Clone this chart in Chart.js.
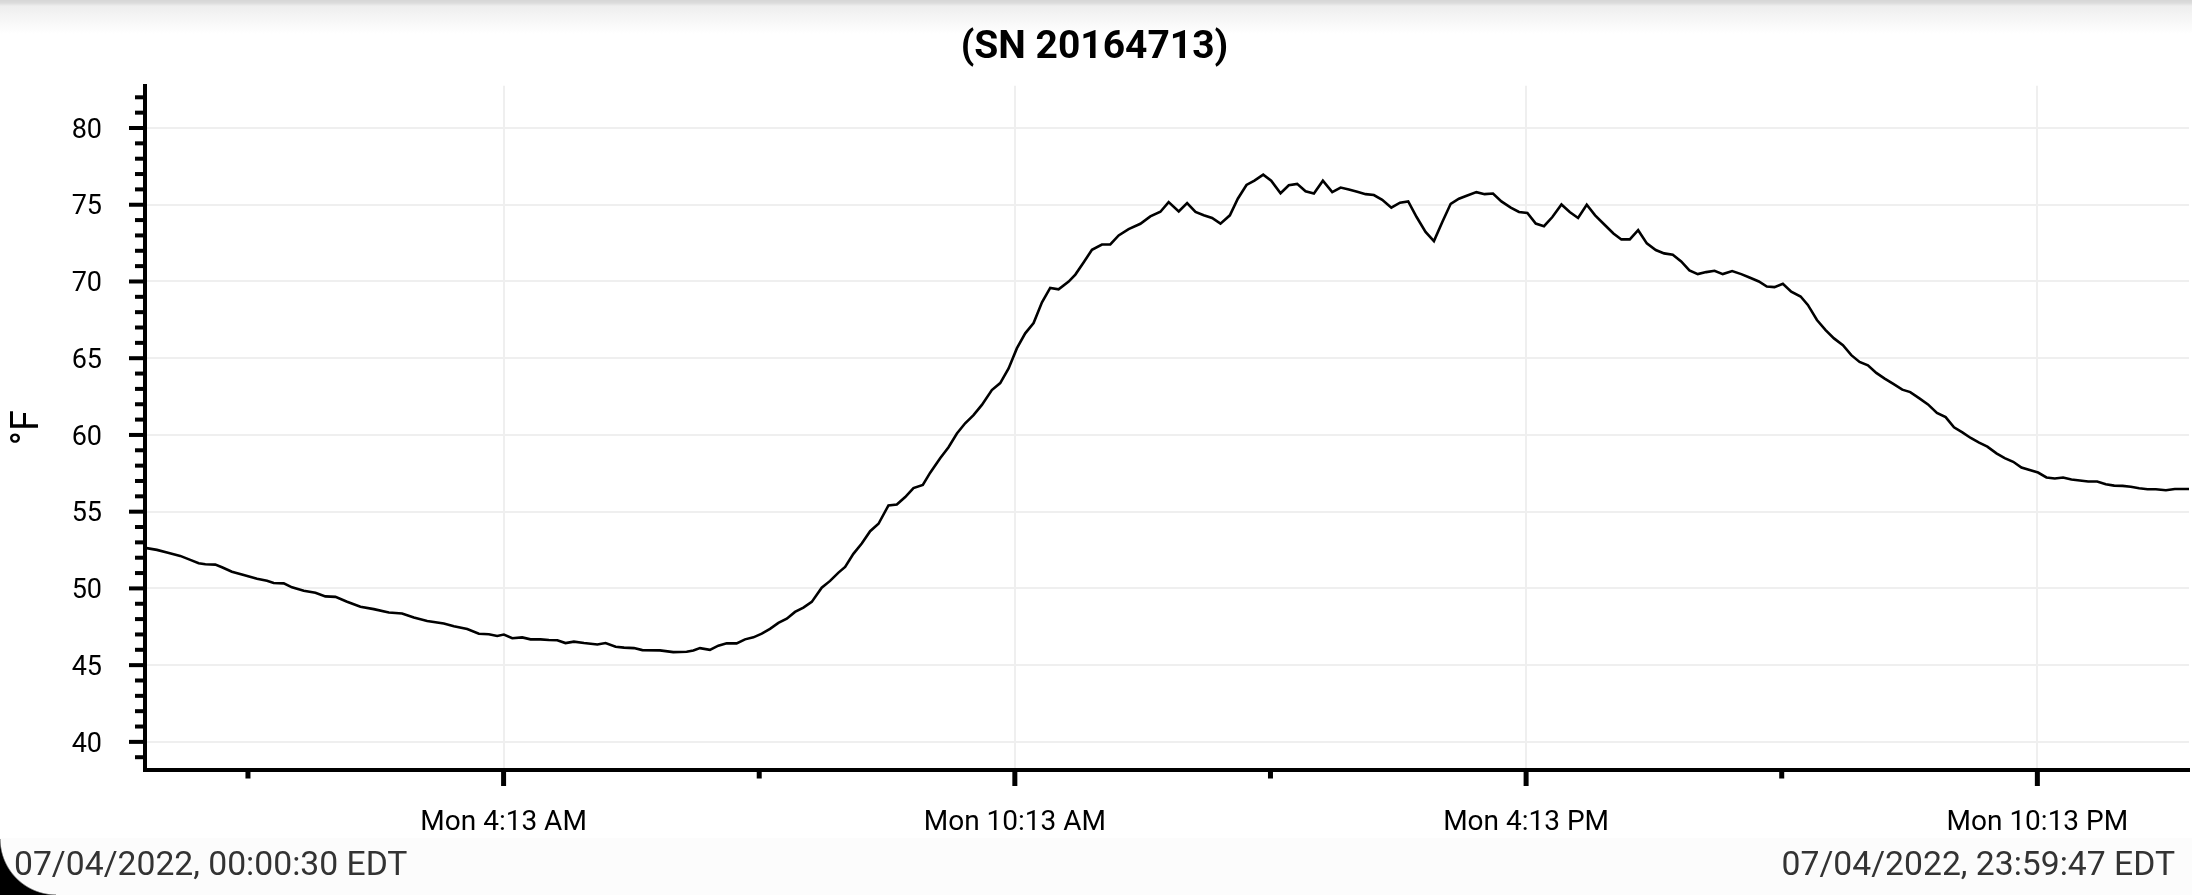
<!DOCTYPE html>
<html>
<head>
<meta charset="utf-8">
<script src="https://cdn.jsdelivr.net/npm/chart.js@4/dist/chart.umd.min.js"></script>
<style>
  html, body { margin: 0; padding: 0; background: #fff; }
  #wrap { position: relative; width: 2192px; height: 895px; overflow: hidden; background: #fff; }
  #shade { position: absolute; left: 0; top: 0; width: 2192px; height: 34px;
    background: linear-gradient(#d6d6d6 0px, #dcdcdc 3px, #eeeeee 6px, #ffffff 34px); }
  #foot { position: absolute; left: 0; top: 838px; width: 2192px; height: 57px; background: #fcfcfc; }
  .stamp { position: absolute; top: 844px; font-family: Roboto, sans-serif; font-size: 33.7px; color: #333; white-space: nowrap; line-height: 40px; }
  #stampL { left: 14px; }
  #stampR { right: 17px; }
  #corner { position: absolute; left: 0; bottom: 0; width: 56px; height: 56px;
    background: radial-gradient(circle at 100% 0%, transparent 55px, #000 56.5px); }
  canvas { position: absolute; left: 0; top: 0; }
</style>
</head>
<body>
<div id="wrap">
  <div id="shade"></div>
  <div id="foot"></div>
  <canvas id="tempChart" width="2192" height="895"></canvas>
  <div class="stamp" id="stampL"></div>
  <div class="stamp" id="stampR"></div>
  <div id="corner"></div>
</div>
<script>
// logger readings, minutes after midnight
const minutes = [
  0.5, 8.9, 16, 25.3, 32.4, 38.3, 43, 50, 54.7, 61.7, 70, 79.4, 86.4, 91.1, 98.2, 104,
  112.3, 120.5, 127.5, 134.6, 142.8, 152.2, 161.6, 172.2, 181.5, 189.8, 199.2, 210.9, 218,
  227.4, 235.6, 242.6, 248.5, 253.2, 259.1, 266.1, 272, 279, 284.9, 290.8, 296.6, 302.5,
  309.6, 319, 324.8, 331.9, 337.8, 344.8, 350.7,
  363.1, 372.5, 381.9, 386.6, 391.3, 398.3, 404.2, 410.1, 417.1, 423, 428.9, 434.8, 440.6,
  446.5, 452.4, 458.2, 464.1, 470, 477, 482.9, 488.8, 493.5, 499.3, 505.2, 511.1, 517, 524,
  529.9, 535.8, 541.6, 548.2, 553.4, 560.4, 566.3, 572.2, 578, 583.9, 589.8, 596.8, 602.7,
  608.6, 614.4, 620.3, 626.2, 632.1, 637.9, 643.8, 650.9, 655.6, 661.4, 667.3, 674.3, 680.2,
  686.1, 693.1, 701.4, 708.4, 715.5, 721.3, 728.4,
  734.3, 740.2, 746, 751.9, 757.8, 764.4, 770, 776.1, 781.7, 787.9, 793.5, 800.1, 805.9,
  811.8, 817.7, 823.6, 829.9, 836.5, 842.4, 848.2, 854.1, 860, 865.8, 871.7, 878.1, 884.2,
  890, 895.9, 902.2, 908.1, 914, 919.9, 925.7, 931.6, 938, 943.8, 949.7, 955.6, 962.2, 968,
  973.9, 979.8, 985.6, 991.5, 997.9, 1003.7, 1009.6, 1015.7, 1021.6, 1027.9, 1034.5, 1040.1,
  1046, 1051.9, 1058, 1064.3, 1070.2,
  1076.3, 1082.2, 1088, 1093.9, 1099.8, 1105.7, 1111.5, 1118.1, 1124.5, 1130.3, 1136.9,
  1142.5, 1147.9, 1153.8, 1159.7, 1166.3, 1171.4, 1177.8, 1183.9, 1189.8, 1196.1, 1202,
  1207.8, 1213.7, 1219.6, 1225.5, 1231.3, 1237.9, 1243.5, 1249.7, 1256, 1262.3, 1268.4,
  1274.3, 1280.2, 1286.1, 1292, 1297.8, 1304.2, 1310, 1316, 1321.8, 1327.6, 1333.5, 1339.4,
  1345.3, 1351.1, 1357, 1362.9, 1368.8, 1375.1, 1381.2, 1387.1, 1393, 1398.8, 1404.7,
  1410.6, 1416.4, 1423.5, 1429.8, 1439.78
];
const tempF = [
  52.64, 52.51, 52.34, 52.12, 51.86, 51.64, 51.57, 51.55, 51.38, 51.09, 50.87, 50.63, 50.50, 50.35, 50.33, 50.07,
  49.85, 49.72, 49.48, 49.45, 49.13, 48.80, 48.65, 48.43, 48.36, 48.10, 47.88, 47.71, 47.53,
  47.36, 47.05, 47.01, 46.90, 46.99, 46.75, 46.81, 46.68, 46.68, 46.64, 46.62, 46.44, 46.53,
  46.44, 46.35, 46.44, 46.20, 46.14, 46.11, 45.98,
  45.96, 45.85, 45.87, 45.96, 46.11, 46.00, 46.27, 46.42, 46.42, 46.68, 46.81, 47.05, 47.36,
  47.75, 48.03, 48.47, 48.75, 49.12, 50.05, 50.49, 51.03, 51.40, 52.25, 52.93, 53.73, 54.21, 55.41,
  55.47, 55.95, 56.54, 56.74, 57.54, 58.48, 59.20, 60.09, 60.76, 61.29, 61.96, 62.92, 63.38,
  64.33, 65.64, 66.62, 67.29, 68.64, 69.58, 69.49, 69.99, 70.45, 71.23, 72.06, 72.41, 72.41,
  73.00, 73.41, 73.76, 74.24, 74.54, 75.17, 74.56,
  75.11, 74.53, 74.31, 74.14, 73.77, 74.31, 75.39, 76.29, 76.57, 76.96, 76.57, 75.75, 76.27,
  76.36, 75.88, 75.73, 76.57, 75.82, 76.12, 75.99, 75.84, 75.69, 75.63, 75.32, 74.81, 75.13,
  75.22, 74.20, 73.23, 72.63, 73.88, 75.06, 75.39, 75.60, 75.82, 75.69, 75.73, 75.22, 74.81, 74.53,
  74.46, 73.77, 73.60, 74.20, 75.02, 74.53, 74.14, 75.00, 74.31, 73.73, 73.13, 72.74,
  72.74, 73.34, 72.48, 72.05, 71.83,
  71.75, 71.31, 70.72, 70.48, 70.61, 70.70, 70.48, 70.68, 70.48, 70.26, 70.00,
  69.67, 69.63, 69.85, 69.34, 69.02, 68.47, 67.49, 66.83, 66.29, 65.85, 65.20,
  64.76, 64.54, 64.04, 63.67, 63.34, 62.95, 62.79, 62.40, 61.99, 61.44, 61.16,
  60.50, 60.17, 59.80, 59.50, 59.24, 58.80, 58.49, 58.25, 57.88, 57.71, 57.55, 57.23,
  57.16, 57.23, 57.10, 57.03, 56.97, 56.97, 56.79, 56.70, 56.68, 56.62, 56.53,
  56.46, 56.46, 56.40, 56.48, 56.48
];

const xMajorTicks = [253, 613, 973, 1333];
const xMajorLabels = ["Mon 4:13 AM", "Mon 10:13 AM", "Mon 4:13 PM", "Mon 10:13 PM"];
const xMinorTicks = [73, 433, 793, 1153];
const chartTitle = "(SN 20164713)";
const unitLabel = "°F";
const startStamp = "07/04/2022, 00:00:30 EDT";
const endStamp = "07/04/2022, 23:59:47 EDT";

document.getElementById("stampL").textContent = startStamp;
document.getElementById("stampR").textContent = endStamp;

const font = "Roboto";

// tick marks drawn here, long ones at labelled values, short ones between
const tickMarks = {
  id: "tickMarks",
  afterDraw(chart) {
    const { ctx, chartArea } = chart;
    const xs = chart.scales.x;
    const ys = chart.scales.y;
    ctx.save();
    ctx.fillStyle = "#000";
    for (let v = Math.ceil(ys.min); v <= ys.max; v++) {
      const py = ys.getPixelForValue(v);
      const len = v % 5 === 0 ? 16 : 10;
      ctx.fillRect(chartArea.left - len, py - 2, len, 4);
    }
    xMajorTicks.forEach(v => {
      const px = xs.getPixelForValue(v);
      ctx.fillRect(px - 2.5, chartArea.bottom, 5, 16.5);
    });
    xMinorTicks.forEach(v => {
      const px = xs.getPixelForValue(v);
      ctx.fillRect(px - 2.5, chartArea.bottom, 5, 9);
    });
    ctx.fillRect(chartArea.left - 2, chartArea.bottom - 2, 4, 4);
    ctx.restore();
  }
};

new Chart(document.getElementById("tempChart").getContext("2d"), {
  type: "line",
  data: {
    datasets: [{
      data: minutes.map((m, i) => ({ x: m, y: tempF[i] })),
      borderColor: "#000",
      borderWidth: 2.6,
      pointRadius: 0,
      fill: false,
      tension: 0
    }]
  },
  options: {
    responsive: false,
    animation: false,
    devicePixelRatio: 1,
    layout: { padding: { top: 0, right: 3, left: 0, bottom: 0 } },
    plugins: {
      legend: { display: false },
      tooltip: { enabled: false },
      title: {
        display: true,
        text: chartTitle,
        color: "#000",
        font: { family: font, size: 39, weight: "bold" },
        lineHeight: 1.2,
        padding: { top: 25, bottom: 14 }
      }
    },
    scales: {
      x: {
        type: "linear",
        min: minutes[0],
        max: minutes[minutes.length - 1],
        afterBuildTicks: scale => {
          scale.ticks = xMajorTicks.map(v => ({ value: v }));
        },
        afterFit: scale => { scale.height = 125.5; },
        ticks: {
          autoSkip: false,
          maxRotation: 0,
          padding: 21,
          color: "#000",
          font: { family: font, size: 28 },
          callback: (value, index) => xMajorLabels[index]
        },
        grid: { color: "#efefef", lineWidth: 2, tickLength: 16, tickColor: "transparent" },
        border: { color: "#000", width: 4 }
      },
      y: {
        min: 38.2,
        max: 82.75,
        afterFit: scale => { scale.width = 145; },
        ticks: {
          stepSize: 5,
          includeBounds: false,
          padding: 28,
          labelOffset: 3,
          color: "#000",
          font: { family: font, size: 27 }
        },
        grid: { color: "#efefef", lineWidth: 2, tickLength: 15, tickColor: "transparent" },
        border: { color: "#000", width: 4 },
        title: {
          display: true,
          text: unitLabel,
          color: "#000",
          font: { family: font, size: 38 },
          padding: { top: 6, bottom: 0 }
        }
      }
    }
  },
  plugins: [tickMarks]
});
</script>
</body>
</html>
